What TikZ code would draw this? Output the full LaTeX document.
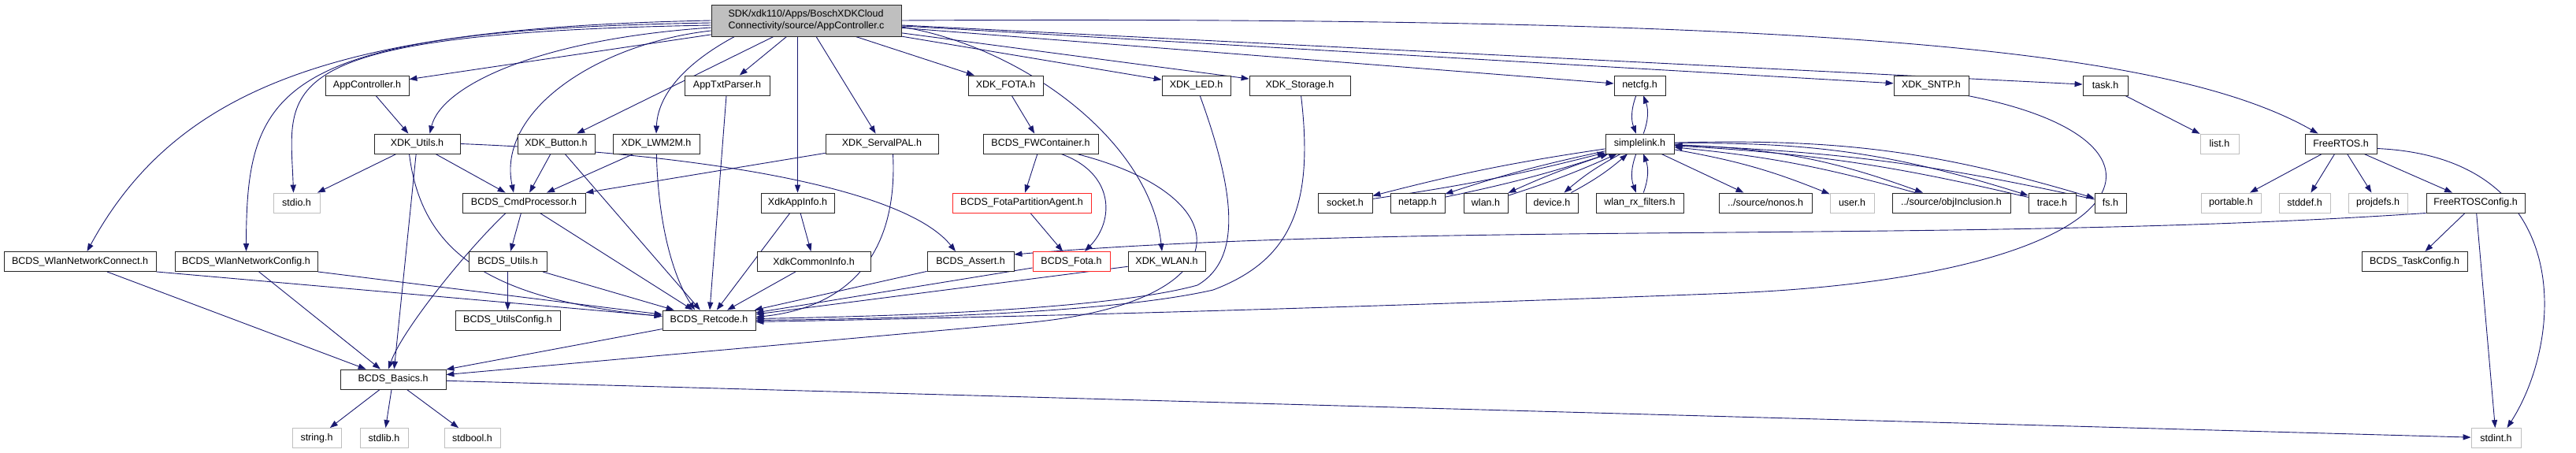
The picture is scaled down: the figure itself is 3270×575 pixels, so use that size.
\documentclass[tikz,border=0pt]{standalone}
\usepackage{fontspec}
\setmainfont{Liberation Sans}
\usetikzlibrary{arrows.meta, positioning, calc, backgrounds}
\definecolor{edgecolor}{RGB}{25,25,112}
\definecolor{sysgray}{RGB}{191,191,191}
\definecolor{rootgray}{RGB}{191,191,191}
\definecolor{missred}{RGB}{255,38,38}

\begin{document}
\begin{tikzpicture}[
    x=1pt, y=-1pt,
    >={Triangle[length=3.5mm, width=2.5mm]},
    box/.style={draw=black!85, line width=0.9pt, fill=white, minimum height=25pt, inner xsep=3pt, inner ysep=1pt, font=\fontsize{12.5}{15}\selectfont},
    sysbox/.style={box, draw=sysgray},
    redbox/.style={box, draw=missred},
    rootbox/.style={box, fill=rootgray, minimum height=40pt, align=left},
    edge/.style={->, draw=edgecolor, line width=0.9pt},
]
    \useasboundingbox (0,0) rectangle (3270,575);
    \node[rootbox, minimum width=241pt] (root) at (1023.5,26) {SDK/xdk110/Apps/BoschXDKCloud\\Connectivity/source/AppController.c};
    \node[box, minimum width=106pt] (apph) at (466,108.5) {AppController.h};
    \node[box, minimum width=108pt] (txtp) at (923,108.5) {AppTxtParser.h};
    \node[box, minimum width=95pt] (xfota) at (1276.5,108.5) {XDK\_FOTA.h};
    \node[box, minimum width=87pt] (xled) at (1518.5,108.5) {XDK\_LED.h};
    \node[box, minimum width=128pt] (xstor) at (1650,108.5) {XDK\_Storage.h};
    \node[box, minimum width=65pt] (netcfg) at (2081.5,108.5) {netcfg.h};
    \node[box, minimum width=95pt] (xsntp) at (2451.5,108.5) {XDK\_SNTP.h};
    \node[box, minimum width=57pt] (task) at (2672.5,108.5) {task.h};
    \node[box, minimum width=109pt] (xutil) at (529.5,182.5) {XDK\_Utils.h};
    \node[box, minimum width=98pt] (xbtn) at (706,182.5) {XDK\_Button.h};
    \node[box, minimum width=110pt] (xlwm) at (833,182.5) {XDK\_LWM2M.h};
    \node[box, minimum width=143pt] (xserv) at (1119.5,182.5) {XDK\_ServalPAL.h};
    \node[box, minimum width=146pt] (fwc) at (1321,182.5) {BCDS\_FWContainer.h};
    \node[box, minimum width=87pt] (slink) at (2081.5,182.5) {simplelink.h};
    \node[sysbox, minimum width=49pt] (list) at (2817.5,182.5) {list.h};
    \node[box, minimum width=91pt] (frtos) at (2971.5,182.5) {FreeRTOS.h};
    \node[sysbox, minimum width=59pt] (stdio) at (376.5,257.5) {stdio.h};
    \node[box, minimum width=156pt] (cmdp) at (665,257.5) {BCDS\_CmdProcessor.h};
    \node[box, minimum width=93pt] (appinfo) at (1012.5,257.5) {XdkAppInfo.h};
    \node[redbox, minimum width=176pt] (fpa) at (1297,257.5) {BCDS\_FotaPartitionAgent.h};
    \node[box, minimum width=69pt] (socket) at (1707.5,257.5) {socket.h};
    \node[box, minimum width=69pt] (netapp) at (1799.5,257.5) {netapp.h};
    \node[box, minimum width=56pt] (wlan) at (1886,257.5) {wlan.h};
    \node[box, minimum width=66pt] (device) at (1970,257.5) {device.h};
    \node[box, minimum width=111pt] (wrx) at (2081.5,257.5) {wlan\_rx\_filters.h};
    \node[box, minimum width=118pt] (nonos) at (2241,257.5) {../source/nonos.h};
    \node[sysbox, minimum width=56pt] (user) at (2351,257.5) {user.h};
    \node[box, minimum width=150pt] (objinc) at (2477,257.5) {../source/objInclusion.h};
    \node[box, minimum width=60pt] (trace) at (2605,257.5) {trace.h};
    \node[box, minimum width=40pt] (fs) at (2679,257.5) {fs.h};
    \node[sysbox, minimum width=76pt] (portable) at (2832,257.5) {portable.h};
    \node[sysbox, minimum width=65pt] (stddef) at (2925.5,257.5) {stddef.h};
    \node[sysbox, minimum width=75pt] (projdefs) at (3018.5,257.5) {projdefs.h};
    \node[box, minimum width=125pt] (frcfg) at (3142.5,257.5) {FreeRTOSConfig.h};
    \node[box, minimum width=193pt] (wconn) at (101.5,332) {BCDS\_WlanNetworkConnect.h};
    \node[box, minimum width=181pt] (wconf) at (312.5,332) {BCDS\_WlanNetworkConfig.h};
    \node[box, minimum width=99pt] (butil) at (644.5,332) {BCDS\_Utils.h};
    \node[box, minimum width=144pt] (cinfo) at (1033,332) {XdkCommonInfo.h};
    \node[box, minimum width=110pt] (assert) at (1232,332) {BCDS\_Assert.h};
    \node[redbox, minimum width=98pt] (fota) at (1360,332) {BCDS\_Fota.h};
    \node[box, minimum width=98pt] (xwlan) at (1481,332) {XDK\_WLAN.h};
    \node[box, minimum width=134pt] (taskcfg) at (3065,332) {BCDS\_TaskConfig.h};
    \node[box, minimum width=133pt] (ucfg) at (644.5,406.5) {BCDS\_UtilsConfig.h};
    \node[box, minimum width=118pt] (retc) at (900,406.5) {BCDS\_Retcode.h};
    \node[box, minimum width=134pt] (basics) at (499,481.5) {BCDS\_Basics.h};
    \node[sysbox, minimum width=62pt] (string) at (402,556) {string.h};
    \node[sysbox, minimum width=61pt] (stdlib) at (487.5,556) {stdlib.h};
    \node[sysbox, minimum width=71pt] (stdbool) at (599.5,556) {stdbool.h};
    \node[sysbox, minimum width=63pt] (stdint) at (3168.5,556) {stdint.h};
    \begin{scope}[on background layer]
    \draw[edge] (root.west) .. controls (450,35) and (230,100) .. ([xshift=9pt]wconn.north);
    \draw[edge] ([yshift=-3pt]root.west) .. controls (350,38) and (313,110) .. (wconf.north);
    \draw[edge] ([yshift=-6pt]root.west) .. controls (330,42) and (368,110) .. ([xshift=-4pt]stdio.north);
    \draw[edge] ([yshift=-9pt]root.west) .. controls (680,50) and (560,110) .. ([xshift=16pt]xutil.north);
    \draw[edge] (root) -- (apph);
    \draw[edge] ([yshift=-13pt]root.west) .. controls (760,55) and (630,140) .. ([xshift=-13pt]cmdp.north);
    \draw[edge] (root) -- (xbtn);
    \draw[edge] ([xshift=-91pt]root.south) .. controls (870,80) and (835,120) .. (xlwm.north);
    \draw[edge] (root) -- (txtp);
    \draw[edge] (root.south -| appinfo) -- (appinfo);
    \draw[edge] (root) -- (xserv);
    \draw[edge] (root) -- (xfota);
    \draw[edge] (root) -- (xled);
    \draw[edge] (root) -- (xstor);
    \draw[edge] ([yshift=-8pt]root.east) .. controls (1300,60) and (1460,180) .. ([xshift=-6pt]xwlan.north);
    \draw[edge] (root) -- (netcfg);
    \draw[edge] (root) -- (xsntp);
    \draw[edge] (root) -- (task);
    \draw[edge] (root.east) .. controls (2300,20) and (2750,60) .. ([xshift=-29pt]frtos.north);
    \draw[edge] (apph) -- (xutil);
    \draw[edge] (xfota) -- (fwc);
    \draw[edge] (task) -- (list);
    \draw[edge] (xutil) -- (stdio);
    \draw[edge] (xutil) -- (cmdp);
    \draw[edge] (xutil) -- (basics);
    \draw[edge] ([xshift=-10pt]xutil.south) .. controls (535,320) and (620,380) .. ([yshift=5pt]retc.west);
    \draw[edge] (xutil.east) .. controls (900,195) and (1150,240) .. ([xshift=-19pt]assert.north);
    \draw[edge] (cmdp) -- (butil);
    \draw[edge] (cmdp) -- (retc);
    \draw[edge] ([xshift=-23pt]cmdp.south) .. controls (590,320) and (510,420) .. ([xshift=-6pt]basics.north);
    \draw[edge] (xbtn) -- (cmdp);
    \draw[edge] (xbtn) -- (retc);
    \draw[edge] (xlwm) -- (cmdp);
    \draw[edge] (xlwm) .. controls (836,300) and (860,360) .. ([xshift=-18pt]retc.north);
    \draw[edge] (txtp) -- (retc);
    \draw[edge] (xserv) -- (cmdp);
    \draw[edge] ([xshift=14pt]xserv.south) .. controls (1140,320) and (1080,390) .. ([yshift=4pt]retc.east);
    \draw[edge] (appinfo) -- (cinfo);
    \draw[edge] (appinfo) -- (retc);
    \draw[edge] (cinfo) -- (retc);
    \draw[edge] (butil) -- (ucfg);
    \draw[edge] (butil) -- (retc);
    \draw[edge] (wconn) -- (basics);
    \draw[edge] (wconn.south east) -- (retc);
    \draw[edge] (wconf) -- (basics);
    \draw[edge] (wconf.south east) -- (retc);
    \draw[edge] (retc) -- (basics);
    \draw[edge] (basics) -- (string);
    \draw[edge] (basics) -- (stdlib);
    \draw[edge] (basics) -- (stdbool);
    \draw[edge] (basics) -- (stdint);
    \draw[edge] (assert) -- (retc);
    \draw[edge] (fota) -- (retc);
    \draw[edge] (xwlan) -- (retc);
    \draw[edge] (xled) .. controls (1570,250) and (1575,330) .. (1520,362) .. controls (1400,395) and (1100,402) .. ([yshift=2pt]retc.east);
    \draw[edge] (xstor) .. controls (1668,260) and (1640,330) .. (1540,368) .. controls (1400,400) and (1100,405) .. (retc.east);
    \draw[edge] (fwc) -- (fpa);
    \draw[edge] ([xshift=26pt]fwc.south) .. controls (1415,220) and (1415,280) .. ([xshift=17pt]fota.north);
    \draw[edge] ([xshift=46pt]fwc.south) .. controls (1580,250) and (1580,385) .. (1300,410) -- (basics);
    \draw[edge] (fpa) -- (fota);
    \draw[edge] ([xshift=-2pt]xsntp.south east) .. controls (2800,180) and (2720,350) .. (2200,372) .. controls (1600,395) and (1200,404) .. ([yshift=-2pt]retc.east);
    \draw[edge] (netcfg) to[bend right=20] (slink);
    \draw[edge] (slink) to[bend right=20] (netcfg);
    \draw[edge] (wrx) to[bend right=20] (slink);
    \draw[edge] (slink) to[bend right=20] (wrx);
    \draw[edge] (slink) to[bend right=3] (socket);
    \draw[edge] (socket) to[bend right=3] (slink);
    \draw[edge] (slink) to[bend right=3] (netapp);
    \draw[edge] (netapp) to[bend right=3] (slink);
    \draw[edge] (slink) to[bend right=3] (wlan);
    \draw[edge] (wlan) to[bend right=3] (slink);
    \draw[edge] (slink) to[bend right=6] (device);
    \draw[edge] (device) to[bend right=6] (slink);
    \draw[edge] (slink) -- (nonos);
    \draw[edge] (slink) to[bend left=6] (user);
    \draw[edge] (slink) to[bend left=9] (objinc);
    \draw[edge] (objinc) to[bend right=5] (slink);
    \draw[edge] (slink) to[bend left=9] (trace);
    \draw[edge] (trace) to[bend right=5] (slink);
    \draw[edge] (slink) to[bend left=9] (fs);
    \draw[edge] (fs) to[bend right=5] (slink);
    \draw[edge] (frtos) -- (portable);
    \draw[edge] (frtos) -- (stddef);
    \draw[edge] (frtos) -- (projdefs);
    \draw[edge] (frtos) -- (frcfg);
    \draw[edge] ([yshift=-6pt]frtos.east) .. controls (3270,200) and (3255,430) .. ([xshift=14pt]stdint.north);
    \draw[edge] (frcfg) -- (taskcfg);
    \draw[edge] (frcfg) -- (stdint);
    \draw[edge] (frcfg.south west) .. controls (2500,310) and (1800,280) .. ([yshift=9pt]assert.east);
    \end{scope}
\end{tikzpicture}
\end{document}
